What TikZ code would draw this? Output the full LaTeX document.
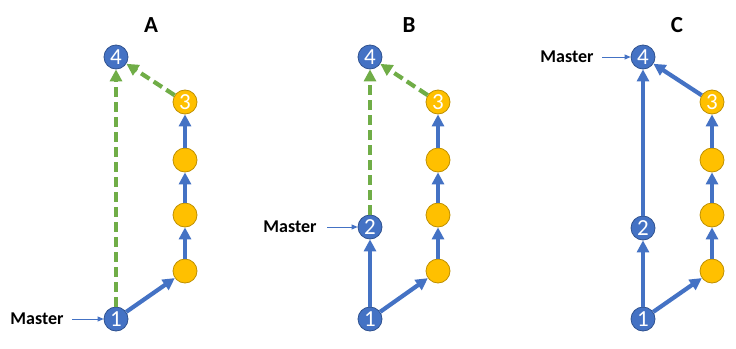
\documentclass[tikz,border=0pt]{standalone}
\usepackage{fontspec}
\setmainfont{Carlito}
\usetikzlibrary{arrows.meta}
\definecolor{cblue}{HTML}{4472C4}
\definecolor{cblueline}{HTML}{2F528F}
\definecolor{cyel}{HTML}{FFC000}
\definecolor{cyelline}{HTML}{BF9000}
\definecolor{cgreen}{HTML}{70AD47}
\begin{document}
\begin{tikzpicture}[x=1pt,y=-1pt,
  commit/.style={circle,draw=cblueline,fill=cblue,line width=0.8pt,minimum size=24pt,inner sep=0pt,text=white,font=\fontsize{23}{23}\selectfont},
  side/.style={commit,draw=cyelline,fill=cyel},
  link/.style={cblue,line width=4.2pt,-{Triangle[length=12pt,width=12pt]}},
  merge/.style={link,cgreen,dash pattern=on 10pt off 5pt},
  ptr/.style={cblue,line width=0.8pt,-{Triangle[length=6pt,width=5pt]}},
  master/.style={font=\bfseries\fontsize{18}{18}\selectfont},
  title/.style={font=\bfseries\fontsize{23}{23}\selectfont}]
\useasboundingbox (0,0) rectangle (736,348);
\node[title] (ta) at (151,25) {A};
\node[title] (tb) at (409,25) {B};
\node[title] (tc) at (677,25) {C};
\node[commit] (a1) at (116,319) {1};
\node[commit] (a4) at (116,57) {4};
\node[side] (ay1) at (185,271) {};
\node[side] (ay2) at (185,215) {};
\node[side] (ay3) at (185,160) {};
\node[side] (a3) at (185,102) {3};
\draw[link] (a1) -- (ay1);
\draw[link] (ay1) -- (ay2);
\draw[link] (ay2) -- (ay3);
\draw[link] (ay3) -- (a3);
\draw[merge] (a1) -- (a4);
\draw[merge] (a3) -- (a4);
\node[master] (ma) at (37,319) {Master};
\coordinate (ma0) at (72,319);
\draw[ptr] (ma0) -- (a1);
\node[commit] (b1) at (370,319) {1};
\node[commit] (b2) at (370,227) {2};
\node[commit] (b4) at (370,57) {4};
\node[side] (by1) at (438,271) {};
\node[side] (by2) at (438,215) {};
\node[side] (by3) at (438,160) {};
\node[side] (b3) at (438,102) {3};
\draw[link] (b1) -- (b2);
\draw[link] (b1) -- (by1);
\draw[link] (by1) -- (by2);
\draw[link] (by2) -- (by3);
\draw[link] (by3) -- (b3);
\draw[merge] (b2) -- (b4);
\draw[merge] (b3) -- (b4);
\node[master] (mb) at (290,227) {Master};
\coordinate (mb0) at (327,227);
\draw[ptr] (mb0) -- (b2);
\node[commit] (c1) at (643,319) {1};
\node[commit] (c2) at (643,228) {2};
\node[commit] (c4) at (643,57) {4};
\node[side] (cy1) at (712,271) {};
\node[side] (cy2) at (712,215) {};
\node[side] (cy3) at (712,160) {};
\node[side] (c3) at (712,102) {3};
\draw[link] (c1) -- (c2);
\draw[link] (c2) -- (c4);
\draw[link] (c1) -- (cy1);
\draw[link] (cy1) -- (cy2);
\draw[link] (cy2) -- (cy3);
\draw[link] (cy3) -- (c3);
\draw[link] (c3) -- (c4);
\node[master] (mc) at (567,57) {Master};
\coordinate (mc0) at (602,57);
\draw[ptr] (mc0) -- (c4);
\end{tikzpicture}
\end{document}
